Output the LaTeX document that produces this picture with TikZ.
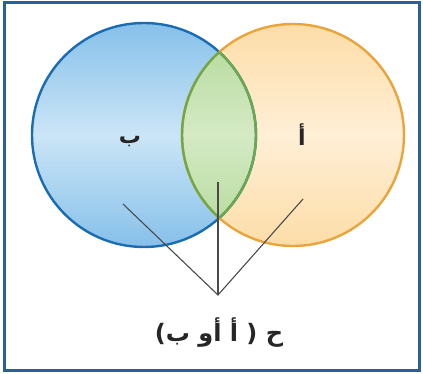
\documentclass[tikz,border=0pt]{standalone}
\usepackage{fontspec}
\newfontfamily\arabicfont[Script=Arabic,BoldFont={DejaVu Sans Bold}]{DejaVu Sans}
\TeXXeTstate=1
\definecolor{frameblue}{HTML}{2B5F95}
\definecolor{bstroke}{HTML}{1B6DB3}
\definecolor{bdark}{HTML}{86C0EA}
\definecolor{blight}{HTML}{CBE5F6}
\definecolor{ostroke}{HTML}{E9A53C}
\definecolor{odark}{HTML}{FDDDA8}
\definecolor{olight}{HTML}{FFEFD6}
\definecolor{gstroke}{HTML}{6DA84A}
\definecolor{gdark}{HTML}{B2D898}
\definecolor{glight}{HTML}{D4EAC4}
\definecolor{linegray}{HTML}{4A4A4A}
\tikzset{
  setcircle/.style={circle, minimum size=224pt, inner sep=0pt, line width=2.4pt},
  lbl/.style={font=\arabicfont\bfseries\fontsize{22}{26}\selectfont, text=black!85},
  pointer/.style={draw=linegray, line width=1.1pt}
}
\begin{document}
\begin{tikzpicture}[x=1pt,y=-1pt]
\useasboundingbox (0,0) rectangle (423,374);
\fill[white] (0,0) rectangle (423,374);
\draw[frameblue, line width=3pt] (4.5,2.5) rectangle (419,370.5);
% fills
\shade[top color=bdark, bottom color=bdark, middle color=blight] (144,135) circle (112);
\shade[top color=odark, bottom color=odark, middle color=olight] (293,135) circle (111);
\begin{scope}
  \clip (144,135) circle (112);
  \shade[top color=gdark, bottom color=gdark, middle color=glight] (293,135) circle (111);
\end{scope}
% named sets
\node[setcircle, draw=bstroke] (B) at (144,135) {};
\node[setcircle, minimum size=222pt, draw=ostroke] (A) at (293,135) {};
\begin{scope}
  \clip (144,135) circle (112);
  \draw[gstroke, line width=2.4pt] (293,135) circle (111);
\end{scope}
\begin{scope}
  \clip (293,135) circle (111);
  \draw[gstroke, line width=2.4pt] (144,135) circle (112);
\end{scope}
% labels
\node[lbl] (lb) at (130,142) {\beginR ب\endR};
\node[lbl] (la) at (302,135) {\beginR أ\endR};
% pointers
\coordinate (pB) at (123,204);
\coordinate (pAB) at (218,182);
\coordinate (pA) at (303,199);
\coordinate (meet) at (218,295);
\draw[pointer] (pB) -- (meet) -- (pA);
\draw[pointer] (pAB) -- (meet);
\node[lbl, font=\arabicfont\bfseries\fontsize{24}{28}\selectfont] (cap) at (219,333) {\beginR ح ( أ أو ب)\endR};
\end{tikzpicture}
\end{document}
